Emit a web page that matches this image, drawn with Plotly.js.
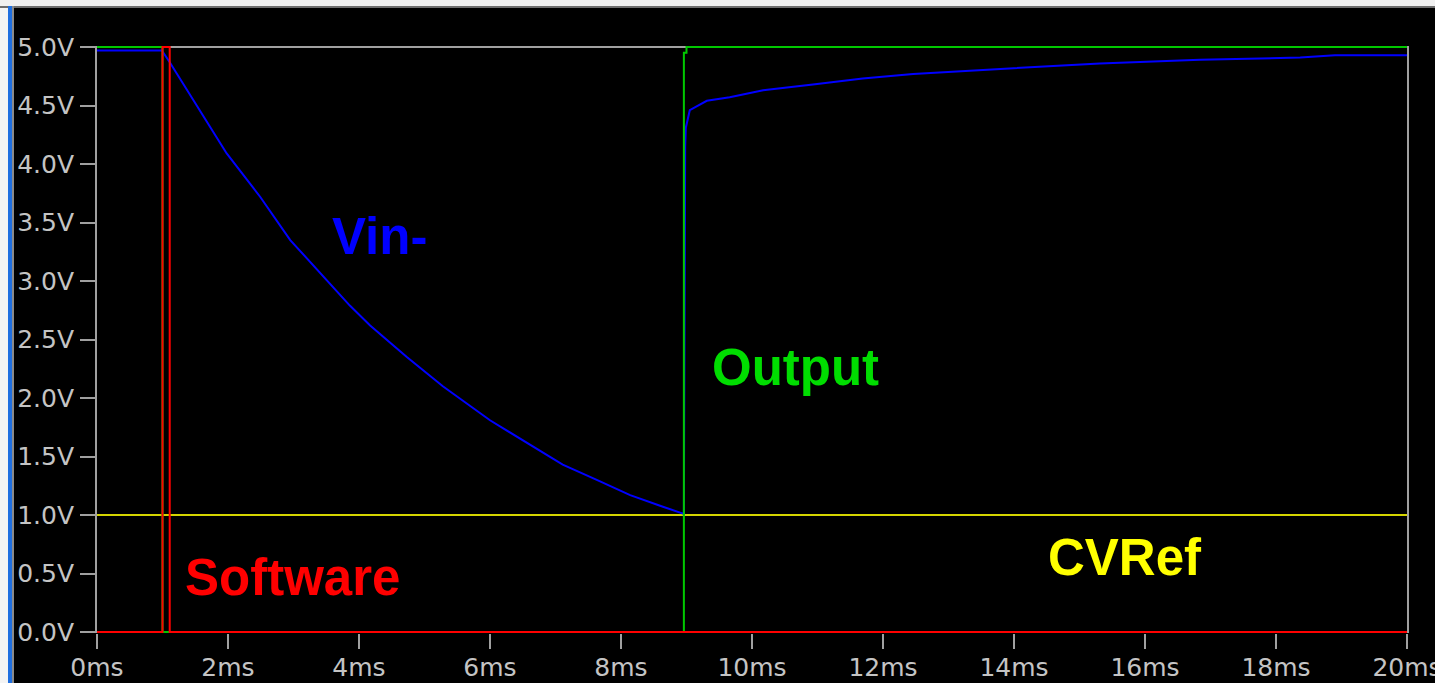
<!DOCTYPE html>
<html>
<head>
<meta charset="utf-8">
<script src="https://cdn.plot.ly/plotly-3.0.1.min.js"></script>
<style>
  html, body { margin: 0; padding: 0; background: #f4f4f4; width: 1435px; height: 683px; overflow: hidden; }
  #topbar { position: absolute; left: 0; top: 0; width: 1435px; height: 6px; background: #f0f0f0; border-bottom: 2px solid #6e6e6e; }
  #blue { position: absolute; left: 8px; top: 6px; width: 4px; height: 677px; background: #1f6fe0; }
  #gray { position: absolute; left: 12px; top: 6px; width: 2px; height: 677px; background: #8a8a8a; }
  #chart { position: absolute; left: 14px; top: 8px; width: 1421px; height: 675px; }
</style>
</head>
<body>
<div id="topbar"></div>
<div id="blue"></div>
<div id="gray"></div>
<div id="chart"></div>
<script>
// Time axis in ms, voltages in V
const xTickVals = [0, 2, 4, 6, 8, 10, 12, 14, 16, 18, 20];
const xTickText = ["0ms", "2ms", "4ms", "6ms", "8ms", "10ms", "12ms", "14ms", "16ms", "18ms", "20ms"];
const yTickVals = [0, 0.5, 1, 1.5, 2, 2.5, 3, 3.5, 4, 4.5, 5];
const yTickText = ["0.0V", "0.5V", "1.0V", "1.5V", "2.0V", "2.5V", "3.0V", "3.5V", "4.0V", "4.5V", "5.0V"];

// CVRef (yellow)
const cvrefT = [0, 20];
const cvrefV = [1.0, 1.0];

// Vin- (blue)
const vinT = [0, 0.99, 1.11, 1.47, 1.98, 2.49, 2.95, 3.86, 4.17, 4.73, 5.28, 6.00, 6.61, 7.11, 7.63, 8.14, 8.64, 8.96,
              8.98, 8.99, 9.05, 9.31, 9.66, 10.17, 10.93, 11.69, 12.46, 13.48, 14.29, 15.31, 16.84, 18.37, 18.9, 20];
const vinV = [4.97, 4.97, 4.87, 4.55, 4.09, 3.72, 3.35, 2.79, 2.62, 2.35, 2.10, 1.81, 1.60, 1.43, 1.30, 1.17, 1.07, 1.01,
              4.15, 4.31, 4.46, 4.54, 4.57, 4.63, 4.68, 4.73, 4.77, 4.80, 4.83, 4.86, 4.89, 4.91, 4.93, 4.93];

// Output (green)
const outT = [0, 1.0, 1.0, 8.96, 8.96, 9.0, 9.0, 20];
const outV = [5.0, 5.0, 0.0, 0.0, 4.95, 4.95, 5.0, 5.0];

// Software (red)
const swT = [0, 1.0, 1.0, 1.11, 1.11, 20];
const swV = [0.0, 0.0, 5.0, 5.0, 0.0, 0.0];

// Labels
const labelText = ["Vin-", "Output", "Software", "CVRef"];
const labelT = [4.32, 10.66, 2.98, 15.69];
const labelV = [3.38, 2.26, 0.47, 0.64];
const labelColor = ["#0000ff", "#00dd00", "#ff0000", "#ffff00"];

const traces = [
  {x: cvrefT, y: cvrefV, mode: "lines", line: {color: "#d4d400", width: 2}, name: "CVRef", hoverinfo: "skip"},
  {x: vinT, y: vinV, mode: "lines", line: {color: "#0000ff", width: 2}, name: "Vin-", hoverinfo: "skip"},
  {x: outT, y: outV, mode: "lines", line: {color: "#00c800", width: 2}, name: "Output", hoverinfo: "skip"},
  {x: swT, y: swV, mode: "lines", line: {color: "#ff0000", width: 2}, name: "Software", hoverinfo: "skip"}
];

const annotations = labelText.map((t, i) => ({
  x: labelT[i], y: labelV[i], xref: "x", yref: "y", text: "<b>" + t + "</b>", showarrow: false,
  font: {family: "Liberation Sans, Arial, sans-serif", size: 51, color: labelColor[i]},
  xanchor: "center", yanchor: "middle"
}));

const gray = "#a0a0a0";
const axisCommon = {
  showgrid: false, zeroline: false,
  ticks: "outside", ticklen: 15, tickwidth: 2, tickcolor: gray,
  tickfont: {family: "DejaVu Sans, sans-serif", size: 25, color: "#c4c4c4"},
  ticklabeloverflow: "allow",
  layer: "below traces",
  fixedrange: true
};

const yPad = 0.00855;
const layout = {
  width: 1421, height: 675,
  margin: {l: 83, r: 28, t: 38, b: 50},
  paper_bgcolor: "#000000", plot_bgcolor: "#000000",
  showlegend: false,
  xaxis: Object.assign({}, axisCommon, {range: [0, 20], tickmode: "array", tickvals: xTickVals, ticktext: xTickText,
                                        showline: false, ticklabelstandoff: -3}),
  yaxis: Object.assign({}, axisCommon, {range: [-yPad, 5 + yPad], tickmode: "array", tickvals: yTickVals, ticktext: yTickText,
                                        showline: true, mirror: true, linecolor: gray, linewidth: 2, ticklabelstandoff: 1}),
  shapes: [
    {type: "line", xref: "x", yref: "y", x0: 0, x1: 20, y0: 5, y1: 5, line: {color: gray, width: 2}, layer: "below"},
    {type: "line", xref: "x", yref: "y", x0: 0, x1: 20, y0: 0, y1: 0, line: {color: gray, width: 2}, layer: "below"}
  ],
  annotations: annotations
};

Plotly.newPlot("chart", traces, layout, {displayModeBar: false, staticPlot: true});
</script>
</body>
</html>
